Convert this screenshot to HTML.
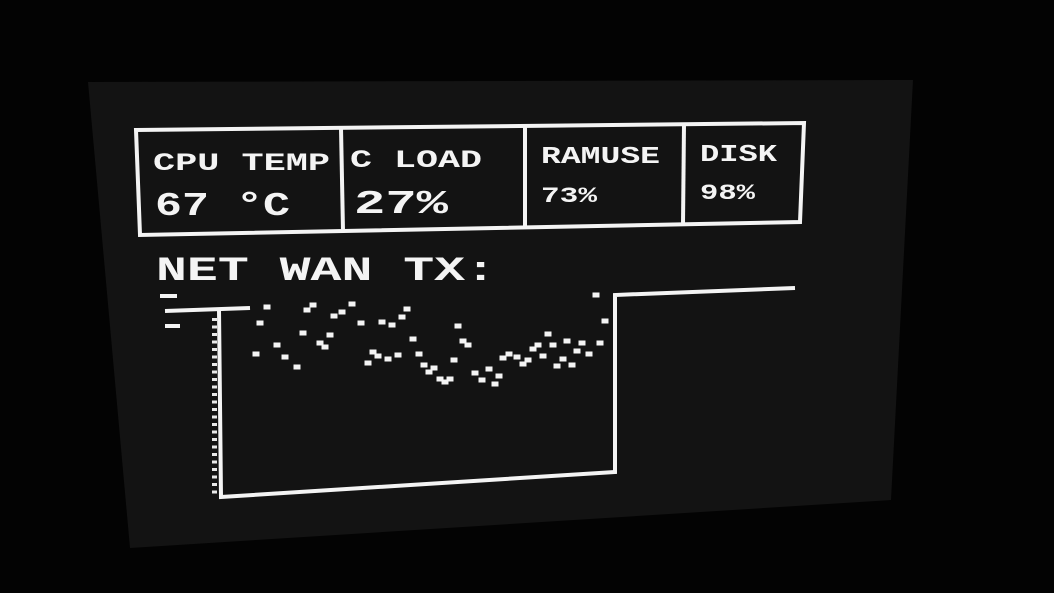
<!DOCTYPE html>
<html><head><meta charset="utf-8"><style>
html,body{margin:0;padding:0;background:#030303;}
svg{display:block}
text{font-family:"Liberation Mono",monospace;font-weight:bold;fill:#f4f4f4;}
</style></head><body>
<svg width="1054" height="593" viewBox="0 0 1054 593">
<rect width="1054" height="593" fill="#030303"/>
<polygon points="88,82 913,80 891,500 130,548" fill="#131313"/>
<g stroke="#f4f4f4" stroke-width="4" fill="none">
<polygon points="136,130 804,123 800,222 140,235"/>
<line x1="341" y1="128" x2="343" y2="231"/>
<line x1="525" y1="126" x2="525" y2="227"/>
<line x1="684" y1="124" x2="683" y2="224"/>
</g>
<text x="153" y="170" font-size="25" textLength="177" lengthAdjust="spacingAndGlyphs">CPU TEMP</text>
<text x="155" y="215" font-size="33" textLength="135" lengthAdjust="spacingAndGlyphs">67 °C</text>
<text x="350" y="167" font-size="25" textLength="132" lengthAdjust="spacingAndGlyphs">C LOAD</text>
<text x="354" y="213" font-size="33" textLength="94" lengthAdjust="spacingAndGlyphs">27%</text>
<text x="541" y="163" font-size="24" textLength="119" lengthAdjust="spacingAndGlyphs">RAMUSE</text>
<text x="541" y="202" font-size="22" textLength="56" lengthAdjust="spacingAndGlyphs">73%</text>
<text x="700" y="161" font-size="24" textLength="77" lengthAdjust="spacingAndGlyphs">DISK</text>
<text x="700" y="199" font-size="22" textLength="55" lengthAdjust="spacingAndGlyphs">98%</text>
<text x="156" y="280" font-size="34" textLength="340" lengthAdjust="spacingAndGlyphs">NET WAN TX:</text>
<g stroke="#f4f4f4" stroke-width="4" fill="none">
<polyline points="165,311 250,308"/>
<polyline points="219,310 221,497 615,472 615,295 795,288"/>
<line x1="160" y1="296" x2="177" y2="296"/>
<line x1="165" y1="326" x2="180" y2="326"/>
</g>
<g id="ticks"></g>
<g id="dots"></g>
</svg>
<script>
const xs=[267,260,256,277,285,297,303,307,313,320,325,330,334,342,352,361,368,373,378,382,392,388,398,402,407,413,419,424,429,434,440,445,450,454,458,463,468,475,482,489,495,499,503,509,517,523,528,533,538,543,548,553,557,563,567,572,577,582,589,600,605,596];
const ys=[307,323,354,345,357,367,333,310,305,343,347,335,316,312,304,323,363,352,356,322,325,359,355,317,309,339,354,365,372,368,379,382,379,360,326,341,345,373,380,369,384,376,358,354,357,364,360,349,345,356,334,345,366,359,341,365,351,343,354,343,321,295];
const ns="http://www.w3.org/2000/svg";
const dg=document.getElementById('dots');
for(let i=0;i<xs.length;i++){
 const r=document.createElementNS(ns,'rect');
 r.setAttribute('x',xs[i]-3.5);r.setAttribute('y',ys[i]-2.5);
 r.setAttribute('width',7);r.setAttribute('height',5);r.setAttribute('fill','#f4f4f4');
 
 
 dg.appendChild(r);
}
const tg=document.getElementById('ticks');
for(let y=318;y<492;y+=7.5){
 const r=document.createElementNS(ns,'rect');
 r.setAttribute('x',212);r.setAttribute('y',y);
 r.setAttribute('width',5);r.setAttribute('height',3);r.setAttribute('fill','#e8e8e8');
 
 
 tg.appendChild(r);
}
</script>
</body></html>
